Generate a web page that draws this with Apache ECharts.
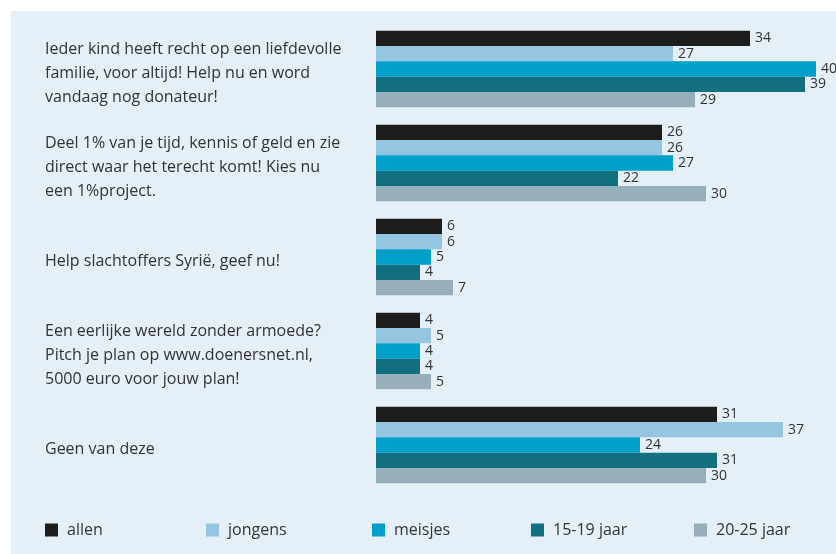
<!DOCTYPE html>
<html>
<head>
<meta charset="utf-8">
<style>
  html, body { margin: 0; padding: 0; background: #ffffff; }
  #chart { width: 836px; height: 554px; }
</style>
<script src="https://cdn.jsdelivr.net/npm/echarts@6/dist/echarts.min.js"></script>
</head>
<body>
<div id="chart"></div>
<script>
// Campaign slogans (y categories) and response percentages per group
const categories = [
  'Ieder kind heeft recht op een liefdevolle\nfamilie, voor altijd! Help nu en word\nvandaag nog donateur!',
  'Deel 1% van je tijd, kennis of geld en zie\ndirect waar het terecht komt! Kies nu\neen 1%project.',
  'Help slachtoffers Syrië, geef nu!',
  'Een eerlijke wereld zonder armoede?\nPitch je plan op www.doenersnet.nl,\n5000 euro voor jouw plan!',
  'Geen van deze'
];
const seriesNames = ['allen', 'jongens', 'meisjes', '15-19 jaar', '20-25 jaar'];
const allen   = [34, 26, 6, 4, 31];
const jongens = [27, 26, 6, 5, 37];
const meisjes = [40, 27, 5, 4, 24];
const jaar1519 = [39, 22, 4, 4, 31];
const jaar2025 = [29, 30, 7, 5, 30];

const values = [allen, jongens, meisjes, jaar1519, jaar2025];
const colors = ['#1d1d1b', '#94c5e1', '#00a0cb', '#116f80', '#97aebb'];
const legendLeft = [45, 206, 372, 531, 694];

const FONT = '"Open Sans", Lato, sans-serif';
const TEXT = '#333333';

const chart = echarts.init(document.getElementById('chart'), null, { renderer: 'canvas' });

const option = {
  animation: false,
  backgroundColor: '#ffffff',
  graphic: [{
    type: 'rect',
    z: -10,
    silent: true,
    shape: { x: 11, y: 11, width: 836 - 11, height: 554 - 11 },
    style: { fill: '#e5eff8' }
  }],
  legend: seriesNames.map((name, i) => ({
    data: [name],
    left: legendLeft[i],
    top: 522,
    icon: 'rect',
    itemWidth: 13,
    itemHeight: 13,
    itemGap: 0,
    selectedMode: false,
    padding: 0,
    textStyle: { fontFamily: FONT, fontSize: 16, color: TEXT, padding: [0, 0, 0, 4] }
  })),
  grid: { left: 376, right: 20, top: 22, bottom: 62, containLabel: false },
  xAxis: {
    type: 'value',
    min: 0,
    max: 40,
    show: false
  },
  yAxis: {
    type: 'category',
    inverse: true,
    data: categories,
    axisLine: { show: false },
    axisTick: { show: false },
    splitLine: { show: false },
    axisLabel: {
      align: 'left',
      margin: 331,
      // a thin blank first line nudges each text block slightly below the bar group centre
      formatter: v => '{s| }\n' + v.split('\n').map(l => '{t|' + l + '}').join('\n'),
      rich: {
        s: { fontSize: 1, lineHeight: 8 },
        t: { fontFamily: FONT, fontSize: 16, lineHeight: 24, color: TEXT }
      }
    }
  },
  series: seriesNames.map((name, i) => ({
    name: name,
    type: 'bar',
    data: values[i],
    barWidth: 15.3,
    barGap: '0%',
    itemStyle: { color: colors[i] },
    label: {
      show: true,
      position: 'right',
      distance: 5,
      fontFamily: FONT,
      fontSize: 14,
      color: TEXT
    }
  }))
};

chart.setOption(option);
</script>
</body>
</html>
